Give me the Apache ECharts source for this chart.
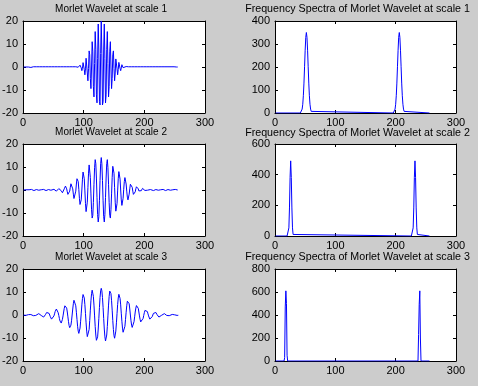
<!DOCTYPE html>
<html><head><meta charset="utf-8">
<script src="https://cdn.jsdelivr.net/npm/echarts/dist/echarts.min.js"></script>
<style>html,body{margin:0;padding:0;background:#cccccc;}#c{width:478px;height:386px;}</style>
</head><body><div id="c"></div>
<script>
// ---------- data ----------
const titlesLeft = ['Morlet Wavelet at scale 1', 'Morlet Wavelet at scale 2', 'Morlet Wavelet at scale 3'];
const titlesRight = ['Frequency Spectra of Morlet Wavelet at scale 1', 'Frequency Spectra of Morlet Wavelet at scale 2', 'Frequency Spectra of Morlet Wavelet at scale 3'];

const xTicks = [0, 100, 200, 300];
const waveTicks = [-20, -10, 0, 10, 20];
const spec1Ticks = [0, 100, 200, 300, 400];
const spec2Ticks = [0, 200, 400, 600];
const spec3Ticks = [0, 200, 400, 600, 800];

// Morlet wavelet, scale 1 (samples 1..256)
const w1 = [
0,0,0,0,0,0,0,0,0,0,
0.2,0.1,-0.2,-0.2,0.1,0.2,0.1,-0.2,-0.2,0.1,
0.2,0.1,-0.2,-0.2,0.1,0.2,0.1,-0.2,-0.2,0.1,
0.2,0.1,-0.2,-0.2,0.1,0.2,0.1,-0.2,-0.2,0.1,
0.2,0.1,-0.2,-0.2,0.1,0.2,0.1,-0.2,-0.2,0.1,
0.2,0.1,-0.2,-0.2,0.1,0.2,0.1,-0.2,-0.2,0.1,
0.2,0.1,-0.2,-0.2,0.1,0.2,0.1,-0.2,-0.2,0.1,
0.2,0.1,-0.2,-0.2,0.1,0.2,0.1,-0.2,-0.2,0.1,
0.2,0.1,-0.2,-0.2,0.1,
0.2,0.1,-0.2,
0.3,0.4,
-0.1,-0.7,-0.3,0.8,1.0,-0.4,-1.6,-0.6,1.9,2.0,
-1.1,-3.4,-0.8,3.8,3.5,-2.6,-6.0,-0.7,7.0,5.3,
-5.0,-9.4,0.0,11.0,6.9,-8.4,-13.0,1.5,15.4,7.7,
-12.1,-15.6,3.6,18.7,7.4,-15.1,-16.5,5.8,20.0,5.8,
-16.5,-15.1,7.4,18.7,3.6,-15.6,-12.1,7.7,15.4,1.5,
-13.0,-8.4,6.9,11.0,0.0,-9.4,-5.0,5.3,7.0,-0.7,
-6.0,-2.6,3.5,3.8,-0.8,-3.4,-1.1,2.0,1.9,-0.6,
-1.6,-0.4,1.0,0.8,-0.3,-0.7,-0.1,0.4,0.3,
0.2,0.1,-0.2,-0.2,0.1,0.2,0.1,-0.2,-0.2,0.1,
0.2,0.1,-0.2,-0.2,0.1,0.2,0.1,-0.2,-0.2,0.1,
0.2,0.1,-0.2,-0.2,0.1,0.2,0.1,-0.2,-0.2,0.1,
0.2,0.1,-0.2,-0.2,0.1,0.2,0.1,-0.2,-0.2,0.1,
0.2,0.1,-0.2,-0.2,0.1,0.2,0.1,-0.2,-0.2,0.1,
0.2,0.1,-0.2,-0.2,0.1,0.2,0.1,-0.2,-0.2,0.1,
0.2,0.1,-0.2,-0.2,0.1,0.2,0.1,-0.2,-0.2,0.1,
0.2,0.1,-0.2,-0.2,0.1,0.2,0.1,-0.2,-0.2,0.1,
0.2,
0,0,0,0,0,0
];

// Morlet wavelet, scale 2
const w2 = [
0,0,0.2,0.25,0.1,-0.1,-0.25,-0.25,-0.1,0.1,
0.25,0.2,0.2,0.25,0.1,-0.1,-0.25,-0.25,-0.1,0.1,
0.25,0.2,0.2,0.25,0.1,-0.1,-0.25,-0.25,-0.1,0.1,
0.25,0.2,0.2,0.25,0.1,-0.1,-0.25,-0.25,-0.1,0.1,
0.25,0.2,0.2,0.25,0.1,-0.1,-0.25,-0.25,
0.2,0.3,
0.3,0.2,-0.1,-0.3,-0.5,-0.5,-0.2,0.2,0.6,0.8,
0.7,0.3,-0.3,-0.9,-1.2,-1.0,-0.4,0.5,1.3,1.7,
1.4,0.5,-0.8,-1.9,-2.4,-1.9,-0.5,1.2,2.7,3.2,
2.5,0.5,-1.8,-3.7,-4.3,-3.1,-0.5,2.6,4.9,5.4,
3.7,0.3,-3.6,-6.3,-6.7,-4.3,0.0,4.7,7.8,8.0,
4.9,-0.4,-5.9,-9.4,-9.2,-5.3,1.0,7.3,10.9,10.3,
5.5,-1.7,-8.6,-12.2,-11.1,-5.5,2.5,9.7,13.2,11.5,
5.2,-3.3,-10.7,-13.9,-11.6,-4.7,4.1,11.4,14.1,11.4,
4.1,-4.7,-11.6,-13.9,-10.7,-3.3,5.2,11.5,13.2,9.7,
2.5,-5.5,-11.1,-12.2,-8.6,-1.7,5.5,10.3,10.9,7.3,
1.0,-5.3,-9.2,-9.4,-5.9,-0.4,4.9,8.0,7.8,4.7,
0.0,-4.3,-6.7,-6.3,-3.6,0.3,3.7,5.4,4.9,2.6,
-0.5,-3.1,-4.3,-3.7,-1.8,0.5,2.5,3.2,2.7,1.2,
-0.5,-1.9,-2.4,-1.9,-0.8,0.5,1.4,1.7,1.3,0.5,
-0.4,-1.0,-1.2,-0.9,-0.3,0.3,0.7,0.8,0.6,0.2,
-0.2,-0.5,-0.5,-0.3,-0.1,0.2,0.3,0.3,0.2,
0.2,0.25,0.1,-0.1,-0.25,-0.25,-0.1,0.1,0.25,0.2,
0.2,0.25,0.1,-0.1,-0.25,-0.25,-0.1,0.1,0.25,0.2,
0.2,0.25,0.1,-0.1,-0.25,-0.25,-0.1,0.1,0.25,0.2,
0.2,0.25,0.1,-0.1,-0.25,-0.25,-0.1,0.1,0.25,0.2,
0.2,0.25,0.1,-0.1,-0.25,
0,0
];

// Morlet wavelet, scale 3
const w3 = [
-0.07,-0.11,-0.16,-0.17,-0.14,-0.1,0.0,0.08,0.16,0.23,
0.26,0.25,0.2,0.1,-0.1,-0.2,-0.3,-0.4,-0.4,-0.3,
-0.2,0.0,0.2,0.5,0.6,0.6,0.6,0.4,0.1,-0.2,
-0.6,-0.8,-0.9,-0.9,-0.7,-0.3,0.15,0.6,1.1,1.3,
1.4,1.1,0.7,0.05,-0.7,-1.3,-1.8,-1.9,-1.8,-1.2,
-0.4,0.5,1.5,2.2,2.6,2.6,2.0,1.0,-0.2,-1.5,
-2.6,-3.3,-3.5,-3.0,-1.9,-0.4,1.3,2.9,4.0,4.5,
4.1,3.0,1.3,-0.8,-2.9,-4.6,-5.5,-5.4,-4.4,-2.5,
0.0,2.6,4.9,6.4,6.8,6.0,4.0,1.2,-1.9,-4.9,
-7.0,-8.0,-7.5,-5.7,-2.7,0.8,4.4,7.2,8.9,9.0,
7.4,4.5,0.6,-3.4,-7.0,-9.4,-10.1,-9.0,-6.3,-2.4,
2.1,6.2,9.3,10.8,10.4,8.1,4.3,-0.4,-5.0,-8.7,
-11.0,-11.3,-9.5,-6.1,-1.5,3.3,7.6,10.5,11.6,10.5,
7.6,3.3,-1.5,-6.1,-9.5,-11.3,-11.0,-8.7,-5.0,-0.4,
4.3,8.1,10.4,10.8,9.3,6.2,2.1,-2.4,-6.3,-9.0,
-10.1,-9.4,-7.0,-3.4,0.6,4.5,7.4,9.0,8.9,7.2,
4.4,0.8,-2.7,-5.7,-7.5,-8.0,-7.0,-4.9,-1.9,1.2,
4.0,6.0,6.8,6.4,4.9,2.6,0.0,-2.5,-4.4,-5.4,
-5.5,-4.6,-2.9,-0.8,1.3,3.0,4.1,4.5,4.0,2.9,
1.3,-0.4,-1.9,-3.0,-3.5,-3.3,-2.6,-1.5,-0.2,1.0,
2.0,2.6,2.6,2.2,1.5,0.5,-0.4,-1.2,-1.8,-1.9,
-1.8,-1.3,-0.7,0.05,0.7,1.1,1.4,1.3,1.1,0.6,
0.15,-0.3,-0.7,-0.9,-0.9,-0.8,-0.6,-0.2,0.1,0.4,
0.6,0.6,0.6,0.5,0.2,0.0,-0.2,-0.3,-0.4,-0.4,
-0.3,-0.2,-0.1,0.1,0.2,0.25,0.26,0.23,0.16,0.08,
0.0,-0.1,-0.14,-0.17,-0.16,-0.11
];

// Frequency spectra: [sample index, magnitude] vertices
const spec1 = [[1,0],[42,0],[43,2],[44,7],[45,17],[46,38],[47,75],[48,130],[49,201],[50,273],[51,329],[52,350],[53,329],[54,273],[55,201],[56,130],[57,75],[58,38],[59,17],[60,7],[61,2],[62,0],
  [196,0],[197,2],[198,7],[199,17],[200,38],[201,75],[202,130],[203,201],[204,273],[205,329],[206,350],[207,329],[208,273],[209,201],[210,130],[211,75],[212,38],[213,17],[214,7],[215,2],[216,0],[256,0]];
const spec2 = [[1,0],[20,0],[21,1],[22,10],[23,53],[24,183],[25,382],[26,490],[27,382],[28,183],[29,53],[30,10],[31,1],[32,0],
  [226,0],[227,1],[228,10],[229,53],[230,183],[231,382],[232,490],[233,382],[234,183],[235,53],[236,10],[237,1],[238,0],[256,0]];
const spec3 = [[1,0],[15,0],[16,30],[17,470],[18,610],[19,500],[20,50],[21,0],
  [237,0],[238,230],[239,490],[240,610],[241,200],[242,0],[256,0]];

if (w1.length !== 256 || w2.length !== 256 || w3.length !== 256) {
  throw new Error('lengths ' + w1.length + ' ' + w2.length + ' ' + w3.length);
}

// ---------- layout ----------
const FONT = '"Liberation Sans", Arial, Helvetica, sans-serif';
const colLeft = [23, 275], colWidth = [182, 181];
const rowTop = [21, 144, 269], rowH = 92;
const titleCx = [111, 357.5], titleCy = [9, 132.7, 257];
const titleSize = [10, 10.7];

const panels = [
  {r:0, c:0, data: w1.map((v,k)=>[k+1, v]), yt: waveTicks, title: titlesLeft[0]},
  {r:0, c:1, data: spec1, yt: spec1Ticks, title: titlesRight[0]},
  {r:1, c:0, data: w2.map((v,k)=>[k+1, v]), yt: waveTicks, title: titlesLeft[1]},
  {r:1, c:1, data: spec2, yt: spec2Ticks, title: titlesRight[1]},
  {r:2, c:0, data: w3.map((v,k)=>[k+1, v]), yt: waveTicks, title: titlesLeft[2]},
  {r:2, c:1, data: spec3, yt: spec3Ticks, title: titlesRight[2]}
];

const grid = [], xAxis = [], yAxis = [], series = [], graphic = [];
const lineCol = '#000';
function axisCommon(showLabel, margin) {
  return {
    axisLine: {show: true, onZero: false, lineStyle: {color: lineCol, width: 1}},
    axisTick: {show: true, inside: true, length: 3, lineStyle: {color: lineCol, width: 1}},
    axisLabel: {show: showLabel, color: '#000', fontFamily: FONT, fontSize: 11, margin: margin, showMinLabel: true, showMaxLabel: true},
    splitLine: {show: false}
  };
}
panels.forEach((p, g) => {
  grid.push({left: colLeft[p.c], top: rowTop[p.r], width: colWidth[p.c], height: rowH,
    show: true, backgroundColor: '#ffffff', borderWidth: 0, containLabel: false, outerBoundsMode: 'none'});
  const xmin = xTicks[0], xmax = xTicks[xTicks.length-1], xint = xTicks[1]-xTicks[0];
  const ymin = p.yt[0], ymax = p.yt[p.yt.length-1], yint = p.yt[1]-p.yt[0];
  xAxis.push(Object.assign({type:'value', gridIndex:g, position:'bottom', min:xmin, max:xmax, interval:xint}, axisCommon(true, 4)));
  xAxis.push(Object.assign({type:'value', gridIndex:g, position:'top', min:xmin, max:xmax, interval:xint}, axisCommon(false, 4)));
  yAxis.push(Object.assign({type:'value', gridIndex:g, position:'left', min:ymin, max:ymax, interval:yint}, axisCommon(true, 5)));
  yAxis.push(Object.assign({type:'value', gridIndex:g, position:'right', min:ymin, max:ymax, interval:yint}, axisCommon(false, 5)));
  series.push({type:'line', xAxisIndex: 2*g, yAxisIndex: 2*g, data: p.data, showSymbol: false, symbol: 'none',
    lineStyle: {color: '#0000ff', width: 1}, itemStyle: {color: '#0000ff'}, animation: false, silent: true});
  graphic.push({type:'text', x: titleCx[p.c], y: titleCy[p.r], silent: true,
    style: {text: p.title, fill: '#000', font: titleSize[p.c] + 'px ' + FONT, textAlign: 'center', textVerticalAlign: 'middle', align: 'center', verticalAlign: 'middle'}});
});

const chart = echarts.init(document.getElementById('c'), null, {renderer: 'canvas'});
chart.setOption({
  backgroundColor: '#cccccc',
  animation: false,
  grid, xAxis, yAxis, series, graphic
});
</script></body></html>
